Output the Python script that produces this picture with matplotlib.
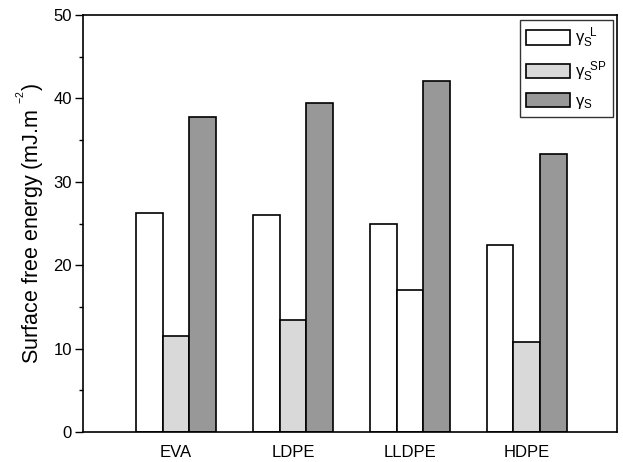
import matplotlib
matplotlib.use("Agg")
import matplotlib.pyplot as plt
import numpy as np
from matplotlib.ticker import MultipleLocator

plt.rcParams['font.family'] = ['Liberation Sans', 'DejaVu Sans']
plt.rcParams['mathtext.fontset'] = 'custom'
plt.rcParams['mathtext.rm'] = 'Liberation Sans'
plt.rcParams['mathtext.it'] = 'Liberation Sans:italic'

# Surface free energy components of the polymers (mJ.m-2)
polymers = ["EVA", "LDPE", "LLDPE", "HDPE"]
gamma_l = [26.3, 26.0, 25.0, 22.4]
gamma_sp = [11.5, 13.4, 17.0, 10.8]
gamma_s = [37.8, 39.4, 42.1, 33.3]
series_labels = [r"$\mathrm{\gamma}_\mathrm{S}^{\ \ \mathrm{L}}$",
                 r"$\mathrm{\gamma}_\mathrm{S}^{\ \ \mathrm{SP}}$",
                 r"$\mathrm{\gamma}_\mathrm{S}$"]
series_colors = ["#ffffff", "#d9d9d9", "#989898"]
# the LLDPE polar bar is printed without fill
sp_fill = ["#d9d9d9", "#d9d9d9", "#ffffff", "#d9d9d9"]

fig = plt.figure(figsize=(6.23, 4.62), dpi=100)
ax = fig.add_axes([0.1332, 0.0649, 0.8572, 0.9026])

x = np.arange(len(polymers))
w = 0.23
ax.bar(x - w, gamma_l, w, color=series_colors[0], edgecolor="black",
       linewidth=1.2, label=series_labels[0])
ax.bar(x, gamma_sp, w, color=sp_fill, edgecolor="black",
       linewidth=1.2, label=series_labels[1])
ax.bar(x + w, gamma_s, w, color=series_colors[2], edgecolor="black",
       linewidth=1.2, label=series_labels[2])

ax.set_xlim(-0.795, 3.77)
ax.set_ylim(0, 50)
ax.set_xticks(x)
ax.set_xticklabels(polymers, fontsize=12)
ax.tick_params(axis="x", length=0, pad=9)
ax.yaxis.set_major_locator(MultipleLocator(10))
ax.yaxis.set_minor_locator(MultipleLocator(5))
ax.tick_params(axis="y", which="major", direction="out", length=6,
               width=1, labelsize=12, pad=2)
ax.tick_params(axis="y", which="minor", direction="out", length=3, width=1)
for sp in ax.spines.values():
    sp.set_linewidth(1.2)

ax.set_ylabel(r"Surface free energy (mJ.m $^{^{-2}}$)", fontsize=15.5,
              labelpad=5)

leg = ax.legend(loc="upper right", bbox_to_anchor=(0.9925, 0.988),
                borderaxespad=0, fontsize=12, frameon=True, fancybox=False,
                edgecolor="black", handlelength=2.65, handleheight=0.95,
                labelspacing=0.55, borderpad=0.35, handletextpad=0.3)
leg.get_frame().set_linewidth(1.0)
# keep the legend swatches filled with the series colours
for patch, c in zip(leg.get_patches(), series_colors):
    patch.set_facecolor(c)

fig.savefig("out.png", dpi=100)
